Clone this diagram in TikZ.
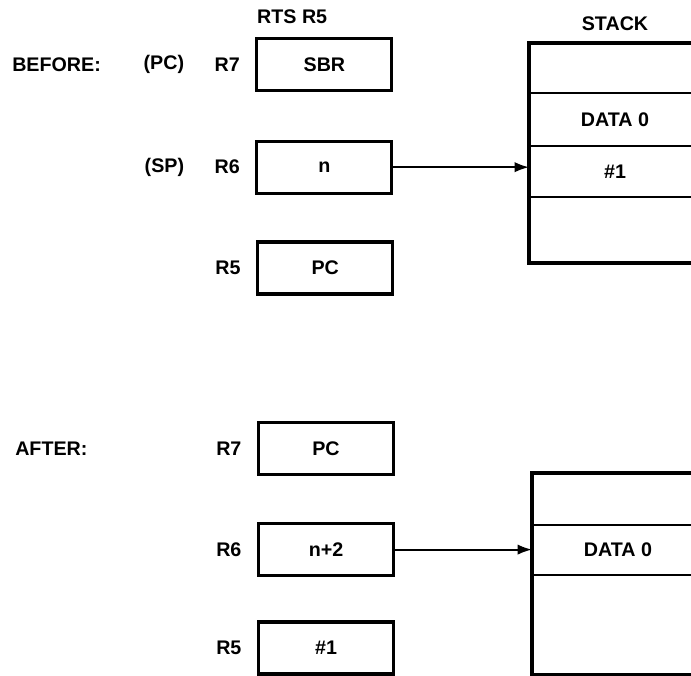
\documentclass[tikz,border=0pt]{standalone}
\usepackage{fontspec}
\setmainfont{Liberation Sans}
\usetikzlibrary{
	arrows.meta,
	positioning
}

\begin{document}
\begin{tikzpicture}[
  font=\fontsize{14}{16}\selectfont\bfseries,
  register/.style={rectangle, draw, line width=2.2pt,
    minimum width=3.375cm, minimum height=1.3cm, inner sep=0pt, outer sep=0pt},
  tag/.style={inner sep=0pt},
  cell/.style={rectangle, draw, line width=1.5pt, minimum width=4.3cm,
    inner sep=0pt, outer sep=0pt},
  frame/.style={line width=2.5pt},
  pointer/.style={-{Latex[length=3.6mm, width=2.6mm]}, line width=1.4pt}
]
\clip (0,0) rectangle (17.275,16.9);
% before
\node[register] (r7b) at (8.11,15.29) {SBR};
\node[register] (r6b) at (8.11,12.72) {n};
\node[register] (r5b) at (8.13,10.2) {PC};
\node[tag, left=0.42cm of r7b] (r7bl) {R7};
\node[tag, left=0.42cm of r6b] (r6bl) {R6};
\node[tag, left=0.42cm of r5b] (r5bl) {R5};
\node[tag, left=0.75cm of r7bl] (pcl) {(PC)};
\node[tag, left=0.75cm of r6bl] (spl) {(SP)};
\node[tag, anchor=west] (before) at (0.3,15.29) {BEFORE:};
\node[tag, anchor=south west] (rts) at ([yshift=0.35cm]r7b.north west) {RTS R5};
\node[cell, minimum height=1.25cm, anchor=north west] (sb1) at (13.225,15.825) {};
\node[cell, minimum height=1.325cm, below=0pt of sb1] (sb2) {DATA 0};
\node[cell, minimum height=1.275cm, below=0pt of sb2] (sb3) {\#1};
\node[cell, minimum height=1.65cm, below=0pt of sb3] (sb4) {};
\draw[frame] (sb1.north east) -- (sb1.north west) -- (sb4.south west) -- (sb4.south east);
\node[tag, above=0.3cm of sb1] (stack) {STACK};
\draw[pointer] (r6b.east) -- (r6b.east -| sb3.west);
% after
\node[register] (r7a) at (8.15,5.69) {PC};
\node[register] (r6a) at (8.15,3.16) {n+2};
\node[register] (r5a) at (8.15,0.7) {\#1};
\node[tag, left=0.42cm of r7a] (r7al) {R7};
\node[tag, left=0.42cm of r6a] (r6al) {R6};
\node[tag, left=0.42cm of r5a] (r5al) {R5};
\node[tag, anchor=west] (after) at (0.375,5.69) {AFTER:};
\node[cell, minimum height=1.3cm, anchor=north west] (sa1) at (13.3,5.075) {};
\node[cell, minimum height=1.25cm, below=0pt of sa1] (sa2) {DATA 0};
\node[cell, minimum height=2.5cm, below=0pt of sa2] (sa3) {};
\draw[frame] (sa1.north east) -- (sa1.north west) -- (sa3.south west) -- (sa3.south east);
\draw[pointer] (r6a.east) -- (r6a.east -| sa2.west);
\end{tikzpicture}
\end{document}
